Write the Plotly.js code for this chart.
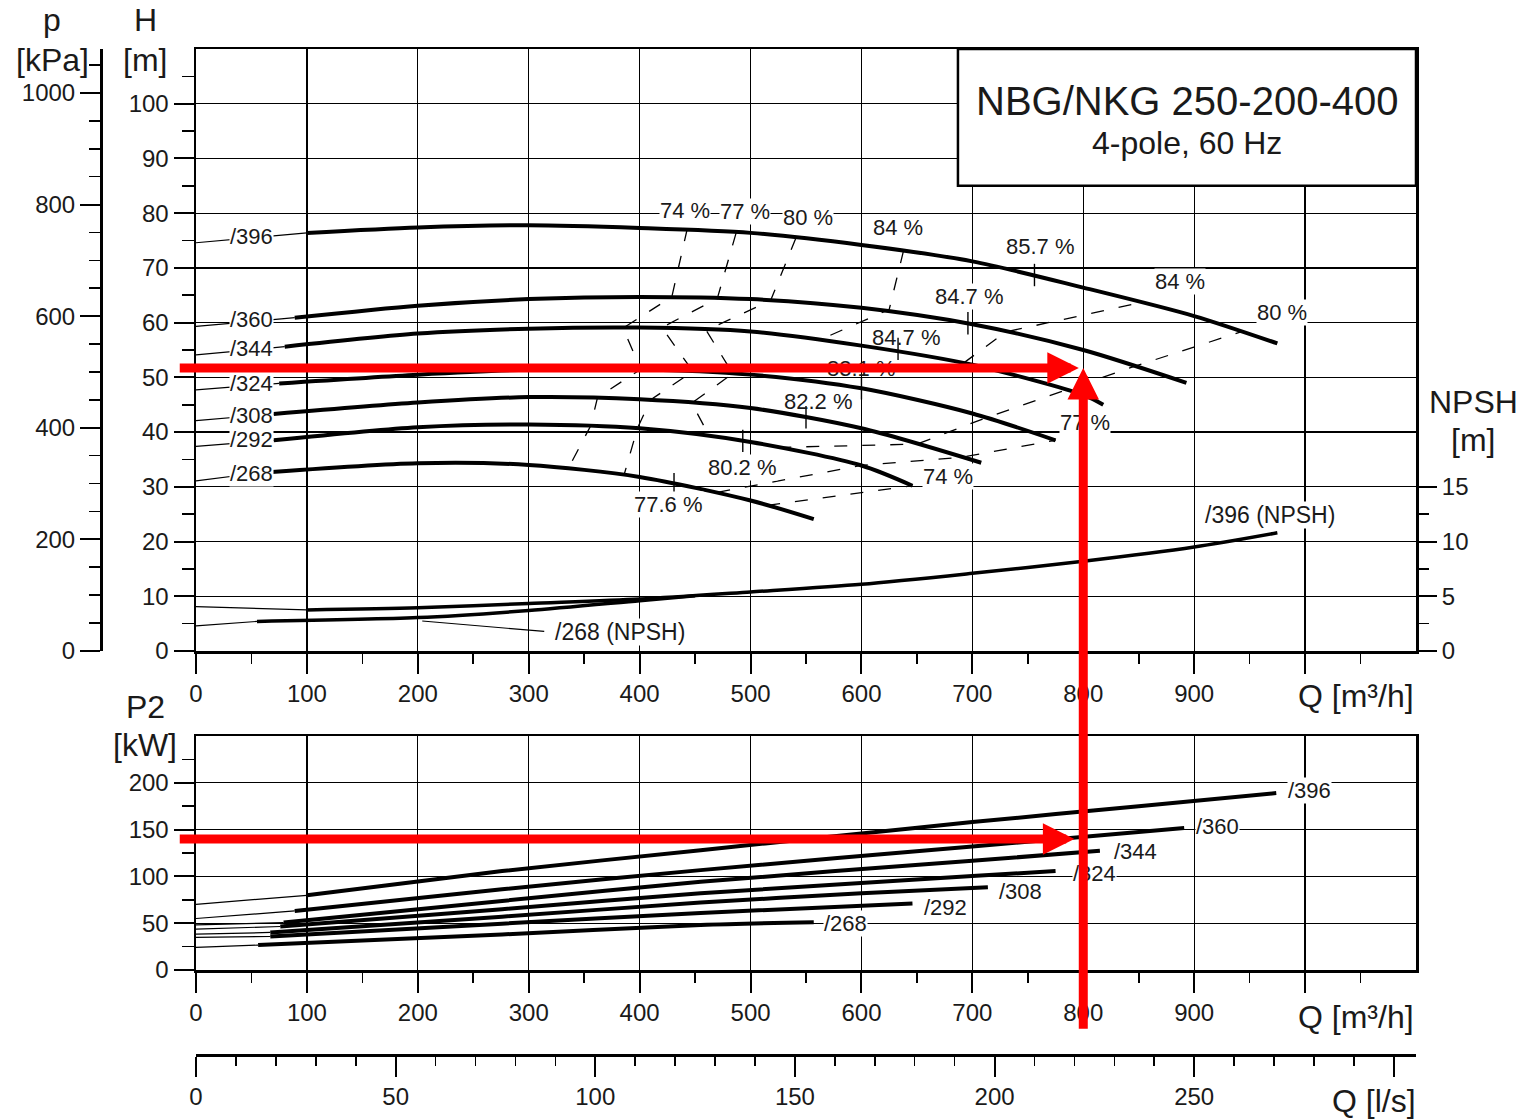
<!DOCTYPE html>
<html><head><meta charset="utf-8">
<script src="https://cdn.plot.ly/plotly-3.0.1.min.js"></script>
<style>body{margin:0;background:#fff}#chart{width:1528px;height:1120px}</style>
</head><body><div id="chart"></div>
<script>
// ---------------- DATA ----------------
// Head curves H [m] vs Q [m³/h] (thick part)
const Q396 = [100,200,300,400,500,600,700,800,900,975];
const H396 = [76.4,77.4,77.8,77.3,76.4,74.2,71.2,66.4,61.2,56.2];
const Q360 = [89,200,300,400,500,600,700,800,893];
const H360 = [60.9,63.1,64.3,64.7,64.3,62.7,59.7,55.0,49.0];
const Q344 = [80,200,300,400,500,600,700,800,818];
const H344 = [55.6,58.0,58.9,59.1,58.4,55.8,52.3,46.8,45.0];
const Q324 = [75,200,300,400,500,600,700,775];
const H324 = [48.9,50.5,51.4,51.5,50.5,48.0,43.4,38.5];
const Q308 = [70,200,300,400,500,600,708];
const H308 = [43.3,45.4,46.4,46.0,44.4,40.7,34.4];
const Q292 = [70,200,300,400,500,600,646];
const H292 = [38.5,40.9,41.4,40.7,38.2,33.9,30.2];
const Q268 = [55,200,300,400,500,557];
const H268 = [32.5,34.3,34.0,31.8,27.5,24.1];
// Head at Q = 0 (thin lead-in lines)
const H0 = [74.6,59.3,54.1,47.7,42.1,37.4,31.1];
const diameters = ['/396','/360','/344','/324','/308','/292','/268'];

// Best-efficiency marks on the head curves
const bepQ = [756,696,633,600,550,493,431];
const bepH = [68.7,59.9,55.2,48.0,42.7,38.4,30.5];

// NPSH [m]
const Qnpsh396 = [100,200,300,400,500,600,700,800,900,975];
const Nnpsh396 = [3.75,3.95,4.35,4.75,5.4,6.1,7.1,8.2,9.5,10.8];
const Qnpsh268 = [55,200,300,400,450];
const Nnpsh268 = [2.7,3.05,3.7,4.6,5.05];
const npsh0 = [4.05,2.3];           // /396, /268 at Q = 0
const npsh268Leader = [[204,314],[2.74,1.79]];

// Power P2 [kW]
const QP396 = [100,200,276,455,580,700,850,974];
const P396  = [79.8,94.5,105.7,128,143.5,158,175,189];
const QP360 = [89,276,455,700,891];
const P360  = [63.1,86.2,106.7,132,151.8];
const QP344 = [79,276,455,700,815];
const P344  = [50.7,73.8,94.3,116.7,127.3];
const QP324 = [76,276,455,700,775];
const P324  = [46.5,64.9,81.9,100.3,105.7];
const QP308 = [67,276,455,600,714];
const P308  = [40.1,57,72,82,88.3];
const QP292 = [67,276,455,646];
const P292  = [35.8,49.5,61,71];
const QP268 = [56,276,455,557];
const P268  = [26.6,38,48,51];
const P0 = [70.2,55,48.2,43.6,38.3,34.8,24.1];   // P2 at Q = 0

// Iso-efficiency lines (Q, H)
const iso74L = [[443,429,385,401,362,356,336],[77.2,64.7,59.0,51.5,46.3,41.2,33.5]];
const iso77L = [[487,470,420,448,410,398,386],[76.4,64.4,59.1,51.1,45.9,40.7,32.2]];
const iso80L = [[541,518,460,484,447,463],[75.5,64.0,58.6,50.7,45.3,39.2]];
const iso84L = [[638,625,563],[73.2,62.4,56.9]];
const iso84R = [[692,730,855],[52.6,58.3,63.8]];
const iso80R = [[525,650,712,785,846,945],[37.2,37.8,42.6,47.7,52.0,58.5]];
const iso77R = [[470,600,690,775],[29.0,33.9,35.4,38.5]];
const iso74R = [[515,646],[26.6,30.2]];

// Labels
const headLabelQ = [50,50,50,50,50,50,50];
const headLabelH = [75.7,60.5,55.2,48.8,43.1,38.6,32.4];
const effText = ['74 %','77 %','80 %','84 %','85.7 %','84 %','80 %','84.7 %','84.7 %','83.1 %','82.2 %','80.2 %','77.6 %','74 %','77 %'];
const effQ    = [441,495,552,633,761,887,979,697,641,600,561,493,426,678,802];
const effH    = [80.4,80.3,79.3,77.3,73.9,67.5,61.8,64.7,57.2,51.7,45.5,33.6,26.7,31.8,41.7];
const effOpaque = [1,1,1,1,1,1,1,1,0,0,0,1,1,1,1];
const powLabelQ = [1004,921,847,810,743,676,586];
const powLabelP = [192.3,153.8,127.1,103.6,84.4,67.3,50.2];

// Operating point (red arrows)
const opQ = 800, opH = 51.7, opP = 140;

// Tick labels
const qTicks = [0,100,200,300,400,500,600,700,800,900,1000];
const qTickText = ['0','100','200','300','400','500','600','700','800','900',''];
const qMinor = [50,150,250,350,450,550,650,750,850,950,1050];
const hTicks = [0,10,20,30,40,50,60,70,80,90,100];
const hMinor = [5,15,25,35,45,55,65,75,85,95,105];
const pTicks = [0,200,400,600,800,1000];
const pMinor = [50,100,150,250,300,350,450,500,550,650,700,750,850,900,950,1050];
const npshTicks = [0,5,10,15];
const npshMinor = [2.5,7.5,12.5];
const p2Ticks = [0,50,100,150,200];
const p2Minor = [25,75,125,175,225];
const lsTicks = [0,50,100,150,200,250,300];
const lsText = ['0','50','100','150','200','250',''];
const lsMinor = [10,20,30,40,60,70,80,90,110,120,130,140,160,170,180,190,210,220,230,240,260,270,280,290];

// ---------------- DRAWING ----------------
const W = 1528, HH = 1120;
const fx = px => px / W, fy = px => 1 - px / HH;
const FONT = 'Liberation Sans, Arial, Helvetica, sans-serif';
const TXT = '#1a1a1a';
const BLK = '#000';
const traces = [];
const line = (x, y, w, opt) => Object.assign({type:'scatter', mode:'lines', x, y, hoverinfo:'skip', showlegend:false,
  line:{color:BLK, width:w, shape:'spline', smoothing:0.8}}, opt || {});

const headQ = [Q396,Q360,Q344,Q324,Q308,Q292,Q268];
const headH = [H396,H360,H344,H324,H308,H292,H268];
headQ.forEach((q, i) => {
  traces.push(line([0, q[0]], [H0[i], headH[i][0]], 1.2));
  traces.push(line(q, headH[i], 4));
});
// iso efficiency
[iso74L, iso77L, iso80L, iso84L, iso84R, iso80R, iso77R, iso74R].forEach(s => {
  traces.push(line(s[0], s[1], 1.3, {line:{color:BLK, width:1.3, dash:'13px,15px'}}));
});
// best efficiency marks
traces.push({type:'scatter', mode:'markers', x:bepQ, y:bepH, hoverinfo:'skip', showlegend:false,
  marker:{symbol:'line-ns', size:16, line:{color:BLK, width:1.4}}});
// NPSH
traces.push(line([0, Qnpsh396[0]], [npsh0[0], Nnpsh396[0]], 1.2, {yaxis:'y4'}));
traces.push(line(Qnpsh396, Nnpsh396, 3.5, {yaxis:'y4'}));
traces.push(line([0, Qnpsh268[0]], [npsh0[1], Nnpsh268[0]], 1.2, {yaxis:'y4'}));
traces.push(line(Qnpsh268, Nnpsh268, 3.5, {yaxis:'y4'}));
traces.push(line(npsh268Leader[0], npsh268Leader[1], 1.2, {yaxis:'y4'}));
// Power
const powQ = [QP396,QP360,QP344,QP324,QP308,QP292,QP268];
const powP = [P396,P360,P344,P324,P308,P292,P268];
powQ.forEach((q, i) => {
  traces.push(line([0, q[0]], [P0[i], powP[i][0]], 1.2, {xaxis:'x2', yaxis:'y2'}));
  traces.push(line(q, powP[i], 4, {xaxis:'x2', yaxis:'y2'}));
});
// axis carriers (pressure axis and l/s axis)
traces.push({type:'scatter', mode:'lines', x:[null, null], y:[0, 1000], xaxis:'x', yaxis:'y3', hoverinfo:'skip', showlegend:false});
traces.push({type:'scatter', mode:'lines', x:[0, 1100/3.6], y:[null, null], xaxis:'x3', yaxis:'y2', hoverinfo:'skip', showlegend:false});

const ann = [];
const txt = (text, x, y, size, o) => Object.assign({text, x, y, xref:'paper', yref:'paper', showarrow:false,
  font:{family:FONT, size, color:TXT}, xanchor:'center', yanchor:'middle'}, o || {});
// axis titles
ann.push(txt('p', fx(52), fy(20), 32));
ann.push(txt('[kPa]', fx(52), fy(60), 32));
ann.push(txt('H', fx(145), fy(20), 32));
ann.push(txt('[m]', fx(145), fy(60), 32));
ann.push(txt('P2', fx(145), fy(707), 32));
ann.push(txt('[kW]', fx(145), fy(745), 32));
ann.push(txt('NPSH', fx(1473), fy(402), 32));
ann.push(txt('[m]', fx(1473), fy(440), 32));
ann.push(txt('Q [m³/h]', fx(1356), fy(696), 32));
ann.push(txt('Q [m³/h]', fx(1356), fy(1017), 32));
ann.push(txt('Q [l/s]', fx(1374), fy(1101), 32));
// title
ann.push({text:'NBG/NKG 250-200-400', x:893.5, y:100.5, xref:'x', yref:'y', showarrow:false, font:{family:FONT, size:40, color:TXT}});
ann.push({text:'4-pole, 60 Hz', x:893.5, y:92.9, xref:'x', yref:'y', showarrow:false, font:{family:FONT, size:32, color:TXT}});
// curve labels
const lab = (text, x, y, xr, yr, size, opaque) => ({text, x, y, xref:xr, yref:yr, showarrow:false,
  bgcolor: opaque === 0 ? 'rgba(0,0,0,0)' : '#fff', borderpad:0,
  font:{family:FONT, size:size || 22, color:TXT}});
diameters.forEach((d, i) => ann.push(lab(d, headLabelQ[i], headLabelH[i], 'x', 'y')));
effText.forEach((t, i) => ann.push(lab(t, effQ[i], effH[i], 'x', 'y', 22, effOpaque[i])));
diameters.forEach((d, i) => ann.push(lab(d, powLabelQ[i], powLabelP[i], 'x2', 'y2')));
ann.push(lab('/396 (NPSH)', 968, 12.4, 'x', 'y4', 23));
ann.push(lab('/268 (NPSH)', 382, 1.78, 'x', 'y4', 23));
// red arrows
const RED = '#ff0000';
const arrow = (x, y, ax, ay, xr, yr) => ({x, y, ax, ay, xref:xr, yref:yr, axref:xr, ayref:yr, text:'', showarrow:true,
  arrowhead:2, arrowsize:0.7, arrowwidth:9, arrowcolor:RED});
ann.push(arrow(opQ - 4, opH, -16, opH, 'x', 'y'));
ann.push(arrow(opQ - 8, opP, -16, opP, 'x2', 'y2'));
ann.push(arrow(opQ, opH, opQ, -69.3, 'x', 'y'));

const shapes = [{type:'rect', xref:'x', yref:'y', x0:687, x1:1100, y0:85, y1:110, fillcolor:'#fff', line:{color:BLK, width:2.5}, layer:'above'}];

const axBase = {showline:true, linecolor:BLK, linewidth:2.5, zeroline:false, ticks:'outside', tickcolor:BLK, tickwidth:2,
  ticklen:20, tickfont:{family:FONT, size:24, color:TXT}, tickmode:'array', fixedrange:true};
const grid = {showgrid:true, gridcolor:BLK, gridwidth:1.3};
const minor = (vals, len) => ({tickvals:vals, ticks:'outside', ticklen:len, tickwidth:1.6, tickcolor:BLK, showgrid:false});

const layout = {
  width:W, height:HH, margin:{l:0, r:0, t:0, b:0}, paper_bgcolor:'#fff', plot_bgcolor:'#fff', showlegend:false,
  font:{family:FONT, size:24, color:TXT},
  xaxis: Object.assign({}, axBase, grid, {domain:[fx(196), fx(1416)], range:[0,1100], anchor:'y', mirror:true,
    tickvals:qTicks, ticktext:qTickText, minor:minor(qMinor, 10)}),
  yaxis: Object.assign({}, axBase, grid, {domain:[fy(651), fy(49)], range:[0,110], anchor:'x', mirror:true,
    tickvals:hTicks, minor:minor(hMinor, 12)}),
  yaxis3: Object.assign({}, axBase, {overlaying:'y', anchor:'free', position:fx(101), side:'left', range:[0, 110*9.80665],
    tickvals:pTicks, showgrid:false, minor:minor(pMinor, 11)}),
  yaxis4: Object.assign({}, axBase, {overlaying:'y', anchor:'x', side:'right', range:[0,55], showline:false,
    tickvals:npshTicks, showgrid:false, minor:minor(npshMinor, 12)}),
  xaxis2: Object.assign({}, axBase, grid, {domain:[fx(196), fx(1416)], range:[0,1100], anchor:'y2', mirror:true,
    tickvals:qTicks, ticktext:qTickText, minor:minor(qMinor, 10)}),
  yaxis2: Object.assign({}, axBase, grid, {domain:[fy(970), fy(736)], range:[0,250], anchor:'x2', mirror:true,
    tickvals:p2Ticks, minor:minor(p2Minor, 12)}),
  xaxis3: Object.assign({}, axBase, {overlaying:'x2', anchor:'free', position:fy(1055), side:'bottom', range:[0, 1100/3.6],
    tickvals:lsTicks, ticktext:lsText, showgrid:false, minor:minor(lsMinor, 9)}),
  annotations: ann,
  shapes: shapes
};
Plotly.newPlot('chart', traces, layout, {staticPlot:true, displayModeBar:false});
</script>
</body></html>
